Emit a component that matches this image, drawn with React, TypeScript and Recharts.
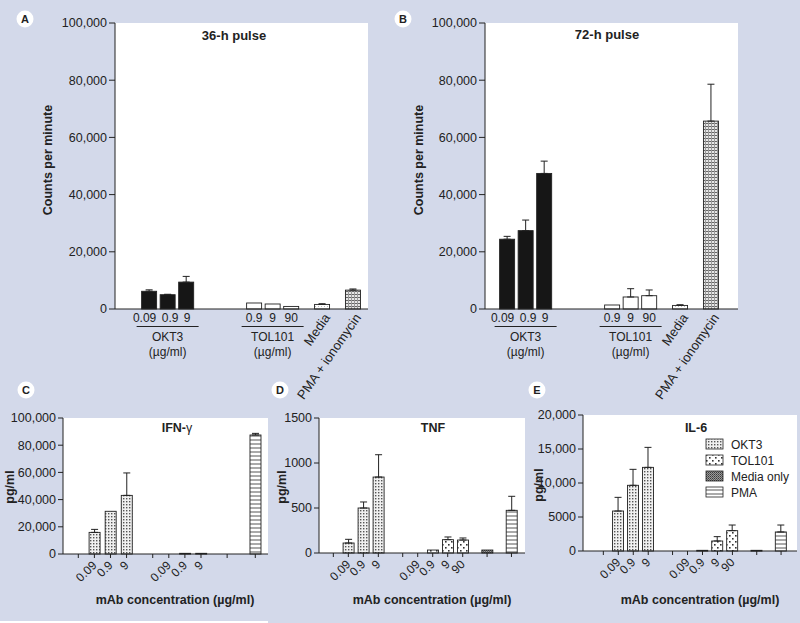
import { Bar, BarChart, CartesianGrid, ErrorBar, XAxis, YAxis } from 'recharts'

const FONT = '"Liberation Sans", Arial, Helvetica, sans-serif'
const INK = '#222'
const PAGE_BG = '#d3d9ea'

type Kind = 'none' | 'okt3' | 'tol' | 'media' | 'pma'

// thymidine uptake, panels A and B
const cpmLabels = ['0.09', '0.9', '9', '0.9', '9', '90', 'Media', 'PMA + ionomycin']
const cpmGroups = ['', 'OKT3', '', '', 'TOL101', '', '', '']
const cpmKinds: Kind[] = ['okt3', 'okt3', 'okt3', 'tol', 'tol', 'tol', 'media', 'pma']
const cpm36h = [6200, 5000, 9400, 2100, 1750, 900, 1600, 6600]
const cpm36hErr = [500, 150, 2000, 0, 0, 0, 250, 400]
const cpm72h = [24400, 27400, 47400, 1400, 4200, 4650, 1250, 65700]
const cpm72hErr = [1000, 3700, 4300, 0, 2900, 2000, 250, 12900]
const cpmTicks = [0, 20000, 40000, 60000, 80000, 100000]

// cytokines, panels C, D, E
const ifnLabels = ['', '0.09', '0.9', '9', '', '0.09', '0.9', '9', '', '']
const ifnKinds: Kind[] = ['none', 'okt3', 'okt3', 'okt3', 'none', 'tol', 'tol', 'tol', 'media', 'pma']
const ifnValues = [0, 15900, 31400, 43100, 0, 0, 500, 500, 0, 87500]
const ifnErr = [0, 2200, 0, 16500, 0, 0, 0, 0, 0, 1200]
const ifnTicks = [0, 20000, 40000, 60000, 80000, 100000]

const tnfLabels = ['', '0.09', '0.9', '9', '', '0.09', '0.9', '9', '90', '', '']
const tnfKinds: Kind[] = ['none', 'okt3', 'okt3', 'okt3', 'none', 'tol', 'tol', 'tol', 'tol', 'media', 'pma']
const tnfValues = [0, 111, 500, 844, 0, 0, 33, 148, 144, 33, 474]
const tnfErr = [0, 41, 67, 248, 0, 0, 0, 30, 23, 0, 156]
const tnfTicks = [0, 500, 1000, 1500]

const il6Values = [0, 5880, 9660, 12300, 0, 0, 100, 1470, 2990, 100, 2800]
const il6Err = [0, 2010, 2350, 2940, 0, 0, 0, 640, 830, 0, 1020]
const il6Ticks = [0, 5000, 10000, 15000, 20000]

const legendItems: { label: string; kind: Kind }[] = [
  { label: 'OKT3', kind: 'okt3' },
  { label: 'TOL101', kind: 'tol' },
  { label: 'Media only', kind: 'media' },
  { label: 'PMA', kind: 'pma' },
]

// slot layout of the category axes (Prism-style gaps between groups)
const cpmSlots = 34
const cpmPositions = [0, 3, 6, 17, 20, 23, 28, 33]
const ifnSlots = 89
const ifnPositions = [0, 8, 16, 24, 37, 45, 53, 61, 74, 88]
const tnfSlots = 96
const tnfPositions = [0, 8, 16, 24, 37, 45, 53, 61, 69, 82, 95]

const cpmFill: Record<Kind, string> = {
  none: 'none',
  okt3: '#161616',
  tol: '#fff',
  media: 'url(#pMediaLight)',
  pma: 'url(#pCross)',
}
const cytoFill: Record<Kind, string> = {
  none: 'none',
  okt3: 'url(#pDots)',
  tol: 'url(#pSparse)',
  media: 'url(#pDark)',
  pma: 'url(#pLines)',
}

interface Row {
  key: string
  label: string
  group: string
  kind: Kind
  value: number
  err?: [number, number]
  tick: boolean
}

function buildRows(
  id: string,
  slots: number,
  positions: number[],
  labels: string[],
  kinds: Kind[],
  values: number[],
  errors: number[],
  groups: string[] = [],
): Row[] {
  const rows: Row[] = Array.from({ length: slots }, (_, i) => ({
    key: `${id}-${i}`,
    label: '',
    group: '',
    kind: 'none' as Kind,
    value: 0,
    tick: false,
  }))
  positions.forEach((p, i) => {
    rows[p] = {
      key: `${id}-${p}`,
      label: labels[i],
      group: groups[i] ?? '',
      kind: kinds[i],
      value: values[i],
      err: errors[i] > 0 ? [0, errors[i]] : undefined,
      tick: true,
    }
  })
  return rows
}

const rowsA = buildRows('a', cpmSlots, cpmPositions, cpmLabels, cpmKinds, cpm36h, cpm36hErr, cpmGroups)
const rowsB = buildRows('b', cpmSlots, cpmPositions, cpmLabels, cpmKinds, cpm72h, cpm72hErr, cpmGroups)
const rowsC = buildRows('c', ifnSlots, ifnPositions, ifnLabels, ifnKinds, ifnValues, ifnErr)
const rowsD = buildRows('d', tnfSlots, tnfPositions, tnfLabels, tnfKinds, tnfValues, tnfErr)
const rowsE = buildRows('e', tnfSlots, tnfPositions, tnfLabels, tnfKinds, il6Values, il6Err)

const fmt = (v: number) => (v >= 10000 ? v.toLocaleString('en-US') : String(v))

const makeShape = (barWidth: number, fills: Record<Kind, string>) => (props: any) => {
  const { x, y, width, height, payload } = props
  if (!payload || !(payload.value > 0)) return <g />
  const cx = x + width / 2
  return (
    <rect
      x={cx - barWidth / 2}
      y={y}
      width={barWidth}
      height={Math.max(height, 0.8)}
      fill={fills[payload.kind as Kind]}
      stroke={INK}
      strokeWidth={0.9}
    />
  )
}

const makeCpmTick = (rows: Row[]) => (props: any) => {
  const { x, y, payload } = props
  const row = rows.find((r) => r.key === payload.value)
  if (!row || !row.tick) return <g />
  if (row.kind === 'media' || row.kind === 'pma') {
    const ax = x + 5
    const ay = y + 6
    return (
      <text
        x={ax}
        y={ay}
        dy="0.35em"
        textAnchor="end"
        fontSize={13}
        fill={INK}
        fontFamily={FONT}
        transform={`rotate(-55, ${ax}, ${ay})`}
      >
        {row.label}
      </text>
    )
  }
  // the tightly packed OKT3 dose labels are spread a little, as in the original
  const nudge = row.kind === 'okt3' ? (row.label === '0.09' ? -4.5 : row.label === '0.9' ? 2.5 : 1) : 0
  return (
    <g fontFamily={FONT} fill={INK}>
      <text x={x + nudge} y={y + 13} textAnchor="middle" fontSize={12}>
        {row.label}
      </text>
      {row.group && (
        <>
          <line x1={x - 31} x2={x + 31} y1={y + 17.5} y2={y + 17.5} stroke={INK} strokeWidth={1} />
          <text x={x} y={y + 32} textAnchor="middle" fontSize={12}>
            {row.group}
          </text>
          <text x={x} y={y + 47} textAnchor="middle" fontSize={12}>
            (µg/ml)
          </text>
        </>
      )}
    </g>
  )
}

const makeCytoTick = (rows: Row[]) => (props: any) => {
  const { x, y, payload } = props
  const row = rows.find((r) => r.key === payload.value)
  if (!row || !row.tick) return <g />
  const ax = x + 3
  const ay = y + 12
  return (
    <g>
      <line x1={x} x2={x} y1={y} y2={y + 4} stroke={INK} strokeWidth={1} />
      {row.label && (
        <text
          x={ax}
          y={ay}
          textAnchor="end"
          fontSize={12}
          fill={INK}
          fontFamily={FONT}
          transform={`rotate(-45, ${ax}, ${ay})`}
        >
          {row.label}
        </text>
      )}
    </g>
  )
}

interface PanelProps {
  left: number
  top: number
  width: number
  height: number
  margin: { top: number; right: number; bottom: number; left: number }
  yWidth: number
  yTickSize: number
  rows: Row[]
  yMax: number
  yTicks: number[]
  pad: { left: number; right: number }
  barWidth: number
  fills: Record<Kind, string>
  tick: (props: any) => any
}

function Panel(p: PanelProps) {
  return (
    <div style={{ position: 'absolute', left: p.left, top: p.top }}>
      <BarChart width={p.width} height={p.height} data={p.rows} margin={p.margin}>
        <CartesianGrid horizontal={false} vertical={false} fill="#fff" stroke="none" />
        <XAxis
          dataKey="key"
          interval={0}
          height={30}
          tickSize={0}
          tickMargin={0}
          tickLine={false}
          padding={p.pad}
          axisLine={{ stroke: INK }}
          tick={p.tick}
        />
        <YAxis
          width={p.yWidth}
          domain={[0, p.yMax]}
          ticks={p.yTicks}
          interval={0}
          tickFormatter={fmt}
          tickSize={p.yTickSize}
          tickMargin={2}
          axisLine={{ stroke: INK }}
          tickLine={{ stroke: INK }}
          tick={{ fontSize: 12.5, fill: INK, fontFamily: FONT }}
        />
        <Bar dataKey="value" isAnimationActive={false} shape={makeShape(p.barWidth, p.fills)}>
          <ErrorBar dataKey="err" width={3.5} stroke={INK} strokeWidth={1} isAnimationActive={false} />
        </Bar>
      </BarChart>
    </div>
  )
}

function Letter({ x, y, text }: { x: number; y: number; text: string }) {
  return (
    <g>
      <circle cx={x} cy={y} r={8.5} fill="#fff" />
      <text x={x} y={y + 4} textAnchor="middle" fontSize={11} fontWeight="bold" fill={INK}>
        {text}
      </text>
    </g>
  )
}

export default function App() {
  return (
    <div
      style={{
        position: 'absolute',
        left: 0,
        top: 0,
        width: 800,
        height: 623,
        overflow: 'hidden',
        background: PAGE_BG,
        fontFamily: FONT,
      }}
    >
      <Panel
        left={0}
        top={0}
        width={390}
        height={430}
        margin={{ top: 23, right: 22, bottom: 91, left: 65 }}
        yWidth={50}
        yTickSize={6}
        rows={rowsA}
        yMax={100000}
        yTicks={cpmTicks}
        pad={{ left: 31, right: 12 }}
        barWidth={15}
        fills={cpmFill}
        tick={makeCpmTick(rowsA)}
      />
      <Panel
        left={390}
        top={0}
        width={410}
        height={430}
        margin={{ top: 23, right: 62, bottom: 91, left: 45 }}
        yWidth={50}
        yTickSize={6}
        rows={rowsB}
        yMax={100000}
        yTicks={cpmTicks}
        pad={{ left: 19, right: 24 }}
        barWidth={15}
        fills={cpmFill}
        tick={makeCpmTick(rowsB)}
      />
      <Panel
        left={0}
        top={390}
        width={270}
        height={233}
        margin={{ top: 28, right: 2, bottom: 39, left: 13 }}
        yWidth={50}
        yTickSize={5}
        rows={rowsC}
        yMax={100000}
        yTicks={ifnTicks}
        pad={{ left: 14.3, right: 11.7 }}
        barWidth={11}
        fills={cytoFill}
        tick={makeCytoTick(rowsC)}
      />
      <Panel
        left={270}
        top={390}
        width={270}
        height={233}
        margin={{ top: 28, right: 15, bottom: 40, left: 9 }}
        yWidth={40}
        yTickSize={5}
        rows={rowsD}
        yMax={1500}
        yTicks={tnfTicks}
        pad={{ left: 13.4, right: 12.6 }}
        barWidth={11}
        fills={cytoFill}
        tick={makeCytoTick(rowsD)}
      />
      <Panel
        left={530}
        top={390}
        width={270}
        height={233}
        margin={{ top: 25, right: 3, bottom: 42, left: 8 }}
        yWidth={45}
        yTickSize={5}
        rows={rowsE}
        yMax={20000}
        yTicks={il6Ticks}
        pad={{ left: 19.4, right: 15 }}
        barWidth={11}
        fills={cytoFill}
        tick={makeCytoTick(rowsE)}
      />

      <svg
        width={800}
        height={623}
        style={{ position: 'absolute', left: 0, top: 0, pointerEvents: 'none' }}
        fontFamily={FONT}
      >
        <defs>
          <pattern id="pDots" width="3" height="3" patternUnits="userSpaceOnUse">
            <rect width="3" height="3" fill="#f0f0f0" />
            <rect width="1.4" height="1.4" fill="#555" />
          </pattern>
          <pattern id="pSparse" width="6" height="6" patternUnits="userSpaceOnUse">
            <rect width="6" height="6" fill="#fff" />
            <rect x="1" y="1" width="1.6" height="1.6" fill="#333" />
            <rect x="4" y="4" width="1.6" height="1.6" fill="#333" />
          </pattern>
          <pattern id="pDark" width="2" height="2" patternUnits="userSpaceOnUse">
            <rect width="2" height="2" fill="#9a9a9a" />
            <rect width="1" height="1" fill="#3a3a3a" />
            <rect x="1" y="1" width="1" height="1" fill="#5a5a5a" />
          </pattern>
          <pattern id="pLines" width="4" height="4" patternUnits="userSpaceOnUse">
            <rect width="4" height="4" fill="#fff" />
            <rect y="1.5" width="4" height="1" fill="#555" />
          </pattern>
          <pattern id="pCross" width="3" height="3" patternUnits="userSpaceOnUse">
            <rect width="3" height="3" fill="#e6e6e6" />
            <rect width="3" height="1" fill="#666" />
            <rect width="1" height="3" fill="#999" />
          </pattern>
          <pattern id="pMediaLight" width="3" height="3" patternUnits="userSpaceOnUse">
            <rect width="3" height="3" fill="#fff" />
            <rect width="1" height="1" fill="#bbb" />
          </pattern>
        </defs>

        <rect x={0} y={621} width={268} height={2} fill="#fff" />

        <Letter x={25} y={19} text="A" />
        <Letter x={403} y={19} text="B" />
        <Letter x={26} y={390} text="C" />
        <Letter x={280} y={390} text="D" />
        <Letter x={537} y={390} text="E" />

        <g fill={INK} fontWeight="bold" textAnchor="middle">
          <text x={234} y={40} fontSize={13}>36-h pulse</text>
          <text x={607} y={39} fontSize={13}>72-h pulse</text>
          <text x={177} y={432} fontSize={12.5}>
            IFN-<tspan fontWeight="normal">γ</tspan>
          </text>
          <text x={433} y={432} fontSize={12.5}>TNF</text>
          <text x={696} y={432} fontSize={12.5}>IL-6</text>

          <text x={52} y={160} fontSize={12.5} transform="rotate(-90, 52, 160)">Counts per minute</text>
          <text x={423} y={160} fontSize={12.5} transform="rotate(-90, 423, 160)">Counts per minute</text>
          <text x={14} y={487} fontSize={12.5} transform="rotate(-90, 14, 487)">pg/ml</text>
          <text x={286} y={487} fontSize={12.5} transform="rotate(-90, 286, 487)">pg/ml</text>
          <text x={543} y={485} fontSize={12.5} transform="rotate(-90, 543, 485)">pg/ml</text>

          <text x={175} y={604} fontSize={12.5}>mAb concentration (µg/ml)</text>
          <text x={432} y={604} fontSize={12.5}>mAb concentration (µg/ml)</text>
          <text x={700} y={604} fontSize={12.5}>mAb concentration (µg/ml)</text>
        </g>

        {legendItems.map((item, i) => (
          <g key={item.label}>
            <rect
              x={706}
              y={439 + i * 16}
              width={17}
              height={10}
              fill={cytoFill[item.kind]}
              stroke={INK}
              strokeWidth={0.8}
            />
            <text x={731} y={448.5 + i * 16} fontSize={12} fill={INK}>
              {item.label}
            </text>
          </g>
        ))}
      </svg>
    </div>
  )
}
